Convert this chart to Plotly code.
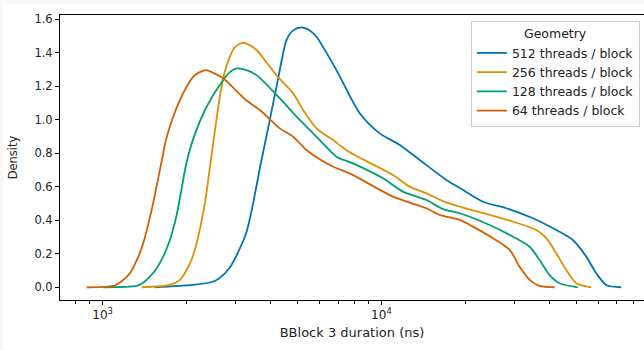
import plotly.graph_objects as go

# Duration (ns) and density
x_512 = [1540, 2107, 2485, 2633, 2860, 3022, 3282, 3715, 4205, 4391, 4565, 4823, 5168, 5534, 5848,
         6898, 8360, 9860, 11630, 13720, 17100, 19090, 23130, 28050, 34950, 42390, 48610, 54300,
         58980, 64060, 72470]
d_512 = [0.0, 0.014, 0.033, 0.056, 0.118, 0.190, 0.330, 0.760, 1.198, 1.357, 1.476, 1.534, 1.552,
         1.534, 1.496, 1.297, 1.039, 0.919, 0.850, 0.760, 0.641, 0.593, 0.511, 0.472, 0.412, 0.342,
         0.282, 0.183, 0.084, 0.014, 0.0]

x_256 = [1380, 1743, 1893, 2000, 2089, 2173, 2326, 2445, 2633, 2741, 2860, 2980, 3166, 3373, 3565,
         4214, 4823, 5236, 5848, 6706, 7490, 8590, 11010, 12630, 14500, 16630, 19090, 24440, 29630,
         35950, 39030, 42390, 46040, 50000, 56580]
d_256 = [0.0, 0.014, 0.044, 0.103, 0.169, 0.263, 0.501, 0.760, 1.138, 1.285, 1.377, 1.434, 1.460,
         1.446, 1.417, 1.264, 1.158, 1.059, 0.949, 0.879, 0.819, 0.764, 0.670, 0.601, 0.561, 0.515,
         0.481, 0.432, 0.392, 0.342, 0.293, 0.203, 0.103, 0.024, 0.0]

x_128 = [1005, 1324, 1394, 1477, 1565, 1649, 1743, 1842, 2000, 2112, 2360, 2706, 2860, 3022, 3282,
         3565, 4320, 5095, 6010, 6898, 7910, 10130, 11950, 14500, 16630, 19090, 24440, 29630, 34000,
         36940, 40120, 43560, 50670]
d_128 = [0.0, 0.008, 0.026, 0.063, 0.115, 0.183, 0.282, 0.430, 0.745, 0.885, 1.078, 1.238, 1.285,
         1.307, 1.297, 1.267, 1.128, 0.999, 0.879, 0.780, 0.740, 0.651, 0.571, 0.521, 0.467, 0.442,
         0.372, 0.302, 0.242, 0.163, 0.073, 0.024, 0.0]

x_64 = [876, 1091, 1173, 1253, 1327, 1398, 1498, 1627, 1696, 1893, 2112, 2233, 2346, 2505, 2706,
        3282, 3664, 4320, 4823, 5385, 6527, 7910, 11010, 14500, 16180, 19090, 21300, 25120, 28840,
        31310, 34000, 36940, 41800]
d_64 = [0.0, 0.008, 0.038, 0.084, 0.163, 0.263, 0.461, 0.750, 0.895, 1.118, 1.257, 1.285, 1.297,
        1.279, 1.248, 1.115, 1.059, 0.949, 0.899, 0.820, 0.730, 0.670, 0.541, 0.472, 0.432, 0.402,
        0.362, 0.293, 0.223, 0.123, 0.044, 0.008, 0.0]

series_names = ["512 threads / block", "256 threads / block", "128 threads / block", "64 threads / block"]
series_x = [x_512, x_256, x_128, x_64]
series_d = [d_512, d_256, d_128, d_64]
colors = ["#0173b2", "#de8f05", "#029e73", "#d55e00"]

major_ticks = [1000, 10000]
major_labels = ["10<sup>3</sup>", "10<sup>4</sup>"]
minor_ticks = [800, 900, 2000, 3000, 4000, 5000, 6000, 7000, 8000, 9000,
               20000, 30000, 40000, 50000, 60000, 70000, 80000]
y_ticks = [0.0, 0.2, 0.4, 0.6, 0.8, 1.0, 1.2, 1.4, 1.6]

font = "DejaVu Sans"

fig = go.Figure()
for name, xs, ds, c in zip(series_names, series_x, series_d, colors):
    fig.add_trace(go.Scatter(x=xs, y=ds, mode="lines", name=name,
                             line=dict(color=c, width=1.8, shape="spline", smoothing=0.8)))

fig.update_layout(
    width=644, height=350,
    margin=dict(l=60, r=0, t=15, b=50, autoexpand=False),
    paper_bgcolor="white", plot_bgcolor="white",
    font=dict(family=font, size=11, color="#222222"),
    showlegend=True,
    legend=dict(
        title=dict(text="Geometry", side="top center", font=dict(size=12.5, family=font)),
        font=dict(size=12.5, family=font),
        x=0.993, xanchor="right", y=0.979, yanchor="top",
        bgcolor="rgba(255,255,255,0.8)", bordercolor="#cccccc", borderwidth=1,
        tracegroupgap=0, itemwidth=30,
    ),
    xaxis=dict(
        type="log", range=[2.847, 4.942], automargin=False,
        tickmode="array", tickvals=major_ticks, ticktext=major_labels,
        ticks="outside", ticklen=4, tickwidth=1, tickcolor="black",
        showgrid=False, zeroline=False,
        showline=True, linecolor="black", linewidth=1, mirror=True,
        minor=dict(tickmode="array", tickvals=minor_ticks, ticks="outside",
                   ticklen=2.5, tickwidth=0.8, tickcolor="black", showgrid=False),
        title=dict(text="BBlock 3 duration (ns)", font=dict(size=13, family=font), standoff=6),
        tickfont=dict(size=12, family=font, color="#222222"),
    ),
    yaxis=dict(
        range=[-0.076, 1.626], automargin=False,
        tickmode="array", tickvals=y_ticks, tickformat=".1f",
        ticks="outside", ticklen=4, tickwidth=1, tickcolor="black",
        showgrid=False, zeroline=False,
        showline=True, linecolor="black", linewidth=1, mirror=False,
        title=dict(text="Density", font=dict(size=11.5, family=font), standoff=14),
        tickfont=dict(size=11.5, family=font, color="#222222"),
    ),
    shapes=[
        dict(type="rect", xref="paper", yref="paper", x0=-0.11, x1=1.01, y0=1.0386, y1=1.06,
             fillcolor="#f7f7f7", line=dict(width=0), layer="below"),
        dict(type="rect", xref="paper", yref="paper", x0=-0.11, x1=-0.0976, y0=-0.2, y1=1.06,
             fillcolor="#f7f7f7", line=dict(width=0), layer="below"),
    ],
)

fig.write_html("out.html", config={"displayModeBar": False},
               post_script="document.body.style.margin='0';")
